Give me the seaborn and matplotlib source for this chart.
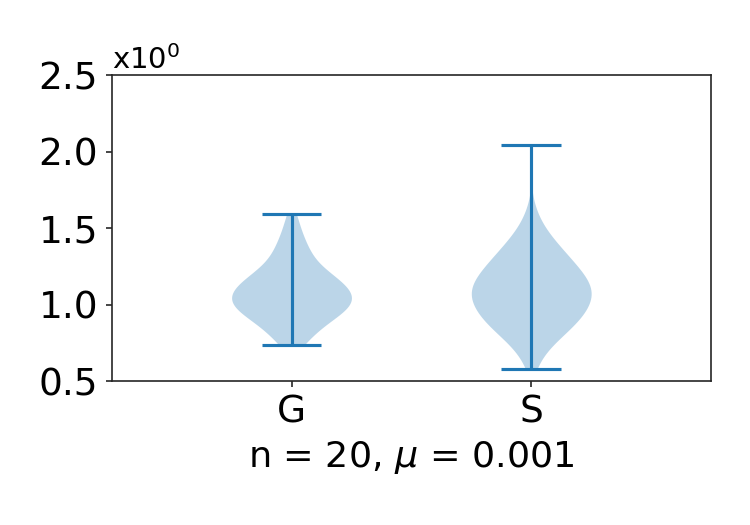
import matplotlib
matplotlib.use("Agg")
import matplotlib.pyplot as plt
import numpy as np
import pandas as pd
import seaborn as sns

labels = ["G", "S"]
positions = [1, 2]

# values, with how often each occurs
g_values = [0.735, 0.75, 0.80, 0.85, 0.90, 0.95, 1.00, 1.05, 1.10, 1.15,
            1.20, 1.25, 1.30, 1.35, 1.40, 1.45, 1.50, 1.55, 1.59]
g_counts = [1, 2, 3, 4, 6, 8, 10, 10, 9, 8, 6, 4, 3, 3, 2, 2, 1, 1, 1]

s_values = [0.578, 0.60, 0.65, 0.70, 0.75, 0.80, 0.85, 0.90, 0.95, 1.00,
            1.05, 1.10, 1.15, 1.20, 1.25, 1.30, 1.35, 1.40, 1.45, 1.50,
            1.55, 1.60, 1.65, 2.042]
s_counts = [1, 1, 2, 3, 5, 7, 9, 11, 12, 13, 14, 14, 13, 12, 10, 9, 7, 6,
            4, 3, 2, 1, 1, 1]

g_data = np.repeat(g_values, g_counts)
s_data = np.repeat(s_values, s_counts)

df = pd.DataFrame({
    "pos": np.concatenate([np.full(len(g_data), positions[0]),
                           np.full(len(s_data), positions[1])]),
    "val": np.concatenate([g_data, s_data]),
})

sns.set_style("ticks")
plt.rcParams["font.family"] = ["DejaVu Sans"]
plt.rcParams["text.color"] = "black"
plt.rcParams["axes.labelcolor"] = "black"
plt.rcParams["xtick.labelcolor"] = "black"
plt.rcParams["ytick.labelcolor"] = "black"

fig = plt.figure(figsize=(5, 3.5), dpi=150)
ax = fig.add_axes([0.149, 0.274, 0.799, 0.583])

sns.violinplot(
    data=df, x="pos", y="val", native_scale=True,
    color="#1f77b4", saturation=1, alpha=0.3,
    width=0.5, density_norm="width", cut=0, inner=None,
    linewidth=0, ax=ax,
)

# extrema and centre bars like matplotlib's violinplot
for pos, data in zip(positions, [g_data, s_data]):
    ax.hlines([data.min(), data.max()], pos - 0.125, pos + 0.125,
              color="#1f77b4", lw=1.5)
    ax.vlines(pos, data.min(), data.max(), color="#1f77b4", lw=1.5)

ax.set_xlim(0.25, 2.75)
ax.set_ylim(0.5, 2.5)
ax.set_xticks(positions, labels)
ax.set_yticks([0.5, 1.0, 1.5, 2.0, 2.5])
ax.set_yticklabels(["0.5", "1.0", "1.5", "2.0", "2.5"])
ax.tick_params(labelsize=18, length=3)
ax.set_ylabel("")
ax.set_xlabel("n = 20, $\\mu$ = 0.001", fontsize=17.5)
ax.text(0.0, 1.0, "x10$^0$", transform=ax.transAxes, fontsize=14,
        ha="left", va="bottom")
for spine in ax.spines.values():
    spine.set_visible(True)

fig.savefig("out.png", dpi=150)
